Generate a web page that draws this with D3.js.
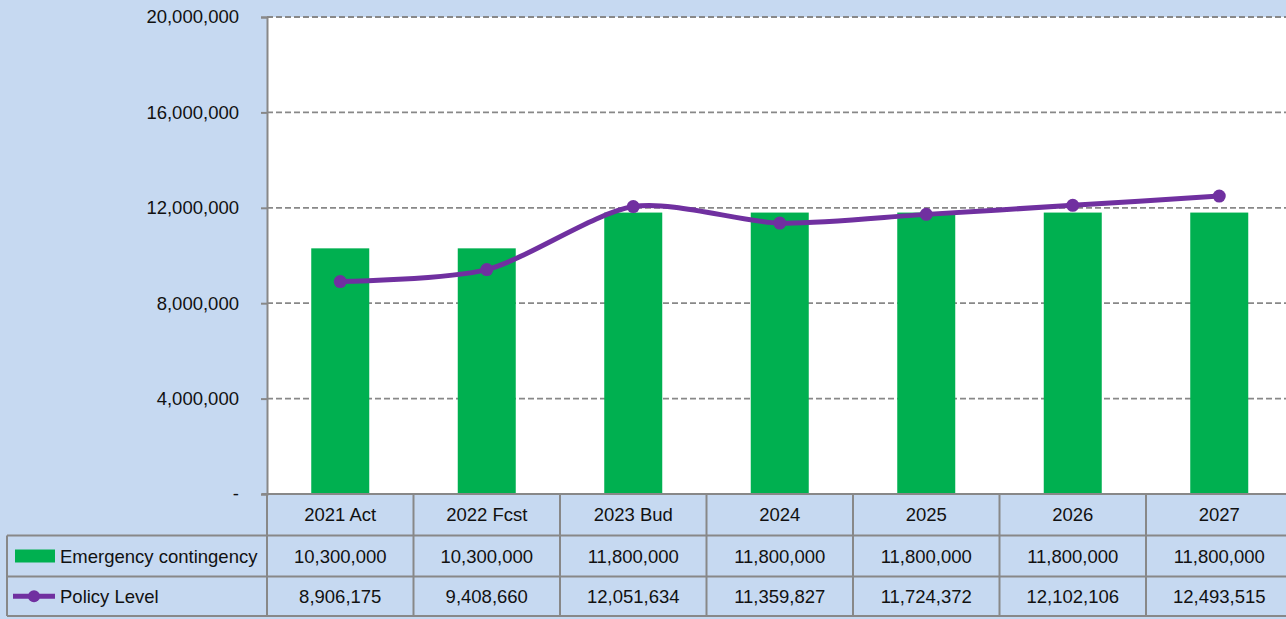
<!DOCTYPE html>
<html>
<head>
<meta charset="utf-8">
<script src="https://cdn.jsdelivr.net/npm/d3@7"></script>
<style>
  html, body { margin: 0; padding: 0; background: #C6D9F1; }
  svg { display: block; }
</style>
</head>
<body>
<svg id="chart" width="1286" height="619"></svg>
<script>
const categories = ["2021 Act", "2022 Fcst", "2023 Bud", "2024", "2025", "2026", "2027"];
const contingency = [10300000, 10300000, 11800000, 11800000, 11800000, 11800000, 11800000];
const policyLevel = [8906175, 9408660, 12051634, 11359827, 11724372, 12102106, 12493515];
const yTicks = [0, 4000000, 8000000, 12000000, 16000000, 20000000];

const svg = d3.select("#chart");
const W = 1286, H = 619;
const plotLeft = 267, plotTop = 17, plotBottom = 494;
const colW = 146.5;
const plotRight = plotLeft + colW * categories.length;
const font = "'Liberation Sans', Arial, sans-serif";
const fontSize = 18.5;
const textCol = "#111";
const gridCol = "#888";

svg.append("rect").attr("width", W).attr("height", H).attr("fill", "#C6D9F1");

const x = d3.scaleBand().domain(categories).range([plotLeft, plotRight]);
const y = d3.scaleLinear().domain([0, 20000000]).range([plotBottom, plotTop]);
const fmt = d3.format(",");

// plot area
svg.append("rect")
  .attr("x", plotLeft).attr("y", plotTop)
  .attr("width", plotRight - plotLeft).attr("height", plotBottom - plotTop)
  .attr("fill", "#fff");

// gridlines
svg.selectAll(".grid")
  .data(yTicks.filter(d => d > 0))
  .enter().append("line")
  .attr("x1", plotLeft).attr("x2", plotRight)
  .attr("y1", d => y(d)).attr("y2", d => y(d))
  .attr("stroke", gridCol).attr("stroke-width", 1.8)
  .attr("stroke-dasharray", "6,3");

// y axis
const yAxis = d3.axisLeft(y).tickValues(yTicks).tickSize(6).tickPadding(22)
  .tickFormat(d => d === 0 ? "-" : fmt(d));
const ga = svg.append("g").attr("transform", `translate(${plotLeft},0)`).call(yAxis);
ga.select(".domain").attr("stroke", gridCol).attr("stroke-width", 2);
ga.selectAll(".tick line").attr("stroke", gridCol).attr("stroke-width", 2);
ga.selectAll(".tick text").attr("font-family", font).attr("font-size", fontSize).attr("fill", textCol);

// bars
const barW = 58;
svg.selectAll(".bar")
  .data(categories)
  .enter().append("rect")
  .attr("x", (d) => x(d) + x.bandwidth() / 2 - barW / 2)
  .attr("y", (d, i) => y(contingency[i]))
  .attr("width", barW)
  .attr("height", (d, i) => plotBottom - y(contingency[i]))
  .attr("fill", "#00B050");

// line
const pts = categories.map((c, i) => [x(c) + x.bandwidth() / 2, y(policyLevel[i])]);
const line = d3.line().curve(d3.curveCardinal.tension(0.2));
svg.append("path")
  .attr("d", line(pts))
  .attr("fill", "none")
  .attr("stroke", "#7030A0")
  .attr("stroke-width", 5);
svg.selectAll(".pt")
  .data(pts)
  .enter().append("circle")
  .attr("cx", d => d[0]).attr("cy", d => d[1]).attr("r", 6.5)
  .attr("fill", "#7030A0");

// data table
const rowY = [494, 535.5, 576.5, 616];
const tableLeft = 7;
const tbl = svg.append("g");
tbl.append("line").attr("x1", 262).attr("x2", W).attr("y1", rowY[0]).attr("y2", rowY[0])
  .attr("stroke", gridCol).attr("stroke-width", 2);
[1, 2, 3].forEach(r => {
  tbl.append("line").attr("x1", tableLeft).attr("x2", W).attr("y1", rowY[r]).attr("y2", rowY[r])
    .attr("stroke", gridCol).attr("stroke-width", 2);
});
tbl.append("line").attr("x1", tableLeft).attr("x2", tableLeft).attr("y1", rowY[1]).attr("y2", rowY[3])
  .attr("stroke", gridCol).attr("stroke-width", 2);
categories.forEach(c => {
  tbl.append("line").attr("x1", x(c)).attr("x2", x(c)).attr("y1", rowY[0]).attr("y2", rowY[3])
    .attr("stroke", gridCol).attr("stroke-width", 2);
});
tbl.append("line").attr("x1", plotRight).attr("x2", plotRight).attr("y1", rowY[0]).attr("y2", rowY[3])
  .attr("stroke", gridCol).attr("stroke-width", 2);

const rows = [categories, contingency.map(fmt), policyLevel.map(fmt)];
rows.forEach((vals, r) => {
  tbl.selectAll(".r" + r)
    .data(vals)
    .enter().append("text")
    .attr("x", (d, i) => x(categories[i]) + x.bandwidth() / 2)
    .attr("y", (rowY[r] + rowY[r + 1]) / 2 + 6.5)
    .attr("text-anchor", "middle")
    .attr("font-family", font).attr("font-size", fontSize).attr("fill", textCol)
    .text(d => d);
});

// legend keys
const ly1 = (rowY[1] + rowY[2]) / 2, ly2 = (rowY[2] + rowY[3]) / 2;
tbl.append("rect").attr("x", 15).attr("y", ly1 - 6.5).attr("width", 40).attr("height", 13).attr("fill", "#00B050");
tbl.append("line").attr("x1", 13).attr("x2", 55).attr("y1", ly2).attr("y2", ly2)
  .attr("stroke", "#7030A0").attr("stroke-width", 5);
tbl.append("circle").attr("cx", 34).attr("cy", ly2).attr("r", 6).attr("fill", "#7030A0");
tbl.append("text").attr("x", 60).attr("y", ly1 + 6.5)
  .attr("font-family", font).attr("font-size", fontSize).attr("fill", textCol)
  .text("Emergency contingency");
tbl.append("text").attr("x", 60).attr("y", ly2 + 6.5)
  .attr("font-family", font).attr("font-size", fontSize).attr("fill", textCol)
  .text("Policy Level");
</script>
</body>
</html>
